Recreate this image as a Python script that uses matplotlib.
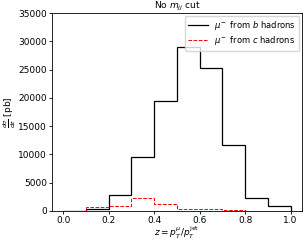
import matplotlib
matplotlib.use("Agg")
import matplotlib.pyplot as plt
import numpy as np

bin_edges = [0.0, 0.1, 0.2, 0.3, 0.4, 0.5, 0.6, 0.7, 0.8, 0.9, 1.0]
b_values = [30, 250, 2800, 9500, 19400, 28900, 25200, 11600, 2300, 900]
c_values = [50, 600, 800, 2200, 1300, 400, 400, 100, 50, 50]

fig = plt.figure(figsize=(3.05, 2.41), dpi=100)
ax = fig.add_axes([0.170, 0.125, 0.820, 0.821])
fs = 6.5
ax.stairs(b_values, bin_edges, color="black", lw=0.9, label=r"$\mu^-$ from $b$ hadrons")
ax.stairs(c_values, bin_edges, color="red", lw=0.7, ls="--", label=r"$\mu^-$ from $c$ hadrons")
ax.set_xlim(-0.05, 1.05)
ax.set_ylim(0, 35000)
ax.set_xticks([0.0, 0.2, 0.4, 0.6, 0.8, 1.0])
ax.set_yticks(np.arange(0, 35001, 5000))
ax.tick_params(labelsize=fs, length=2, width=0.6, pad=1.5)
ax.set_title(r"No $m_{jj}$ cut", fontsize=fs, pad=2)
ax.set_xlabel(r"$z = p_T^{\mu}/p_T^{\rm jet}$", fontsize=fs, labelpad=0)
ax.set_ylabel(r"$\frac{d\sigma}{dz}$ [pb]", fontsize=fs, labelpad=0.5)
ax.legend(fontsize=6, loc="upper right", frameon=True, handlelength=2.3,
          borderpad=0.4, labelspacing=0.3, borderaxespad=0.3)
for s in ax.spines.values():
    s.set_linewidth(0.6)
fig.savefig("out.png", dpi=100)
